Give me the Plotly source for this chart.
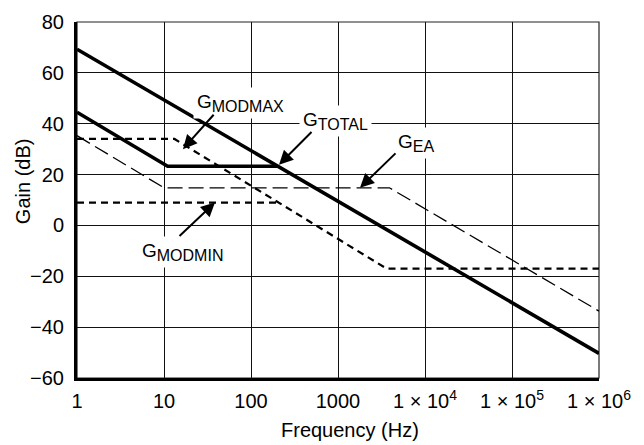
import numpy as np
import plotly.graph_objects as go

# ---- data ----
freq_total = [1, 1e6]
gain_total = [69.3, -50.3]

freq_total_low = [1, 11, 200]
gain_total_low = [44.5, 23.3, 23.3]

freq_modmax = [1, 13.2, 3630, 1e6]
gain_modmax = [34, 34, -17, -17]

# G_MODMIN joins the G_MODMAX slope at its corner and shares it from there on
freq_modmin = [1, 207]
gain_modmin = [9, 9]

freq_ea = [1, 10, 3900, 1e6]
gain_ea = [35.3, 14.8, 14.8, -33.7]

x_tickvals = [1, 10, 100, 1000, 1e4, 1e5, 1e6]
x_ticktext = ["1", "10", "100", "1000", "1 \u00d7 10<sup>4</sup>",
              "1 \u00d7 10<sup>5</sup>", "1 \u00d7 10<sup>6</sup>"]
y_tickvals = [-60, -40, -20, 0, 20, 40, 60, 80]
y_ticktext = ["\u221260", "\u221240", "\u221220", "0", "20", "40", "60", "80"]

FONT = "Liberation Sans, Arial, Helvetica, sans-serif"

fig = go.Figure()

fig.add_trace(go.Scatter(x=freq_ea, y=gain_ea, mode="lines",
                         line=dict(color="black", width=1.3, dash="15px,6px")))
fig.add_trace(go.Scatter(x=freq_modmax, y=gain_modmax, mode="lines",
                         line=dict(color="black", width=2.2, dash="7px,5px")))
fig.add_trace(go.Scatter(x=freq_modmin, y=gain_modmin, mode="lines",
                         line=dict(color="black", width=2.2, dash="7px,5px")))
fig.add_trace(go.Scatter(x=freq_total_low, y=gain_total_low, mode="lines",
                         line=dict(color="black", width=3.6)))
fig.add_trace(go.Scatter(x=freq_total, y=gain_total, mode="lines",
                         line=dict(color="black", width=3.6)))

def lbl(sub):
    return f'G<sub><span style="font-size:16px">{sub}</span></sub>'

# labels: (text, log10 x, y)
labels = [
    (lbl("MODMAX"), 1.874, 48.0),
    (lbl("TOTAL"), 2.971, 41.0),
    (lbl("EA"), 3.891, 32.5),
    (lbl("MODMIN"), 1.207, -10.5),
]
annotations = []
for t, lx, ly in labels:
    annotations.append(dict(text=t, x=lx, y=ly, xref="x", yref="y", showarrow=False,
                            xanchor="center", yanchor="middle",
                            font=dict(family=FONT, size=19, color="black"),
                            bgcolor="white", borderpad=3))

# arrows: tip (log10 x, y), tail (log10 x, y)
arrows = [
    ((1.218, 30.0), (1.586, 44.1)),
    ((2.322, 23.9), (2.713, 37.3)),
    ((3.253, 14.8), (3.678, 28.9)),
    ((1.586, 9.0), (1.161, -4.7)),
]
for (tx, ty), (sx, sy) in arrows:
    annotations.append(dict(text="", x=tx, y=ty, ax=sx, ay=sy, xref="x", yref="y",
                            axref="x", ayref="y", showarrow=True, arrowhead=2,
                            arrowsize=1.4, arrowwidth=2, arrowcolor="black",
                            standoff=0, startstandoff=0))

annotations.append(dict(text="Frequency (Hz)", x=0.523, y=-0.147, xref="paper", yref="paper",
                        xanchor="center", yanchor="middle",
                        showarrow=False, font=dict(family=FONT, size=20, color="black")))
annotations.append(dict(text="Gain (dB)", x=-0.1034, y=0.553, xref="paper", yref="paper",
                        xanchor="center", yanchor="middle",
                        textangle=-90, showarrow=False,
                        font=dict(family=FONT, size=20, color="black")))

fig.update_layout(
    width=644, height=445,
    margin=dict(l=77, r=45, t=11, b=67),
    paper_bgcolor="white", plot_bgcolor="white",
    showlegend=False,
    annotations=annotations,
    font=dict(family=FONT, size=20, color="black"),
    shapes=[dict(type="rect", xref="paper", yref="paper", x0=0, x1=1, y0=0, y1=1,
                 line=dict(color="#222", width=1.2), layer="below")],
)
fig.update_xaxes(type="log", range=[0, 6], tickvals=x_tickvals, ticktext=x_ticktext,
                 showgrid=True, gridcolor="#111", gridwidth=1,
                 showline=True, linecolor="black", linewidth=3,
                 ticks="outside", ticklen=3, tickcolor="rgba(0,0,0,0)",
                 tickfont=dict(family=FONT, size=20, color="black"), zeroline=False)
fig.update_yaxes(range=[-60, 80], tickvals=y_tickvals, ticktext=y_ticktext,
                 showgrid=True, gridcolor="#111", gridwidth=1,
                 showline=True, linecolor="black", linewidth=3,
                 ticks="outside", ticklen=6, tickcolor="rgba(0,0,0,0)",
                 tickfont=dict(family=FONT, size=20, color="black"), zeroline=False)

fig.write_html("out.html", config={"displayModeBar": False},
               post_script="document.body.style.margin='0px';document.body.style.overflow='hidden';")
